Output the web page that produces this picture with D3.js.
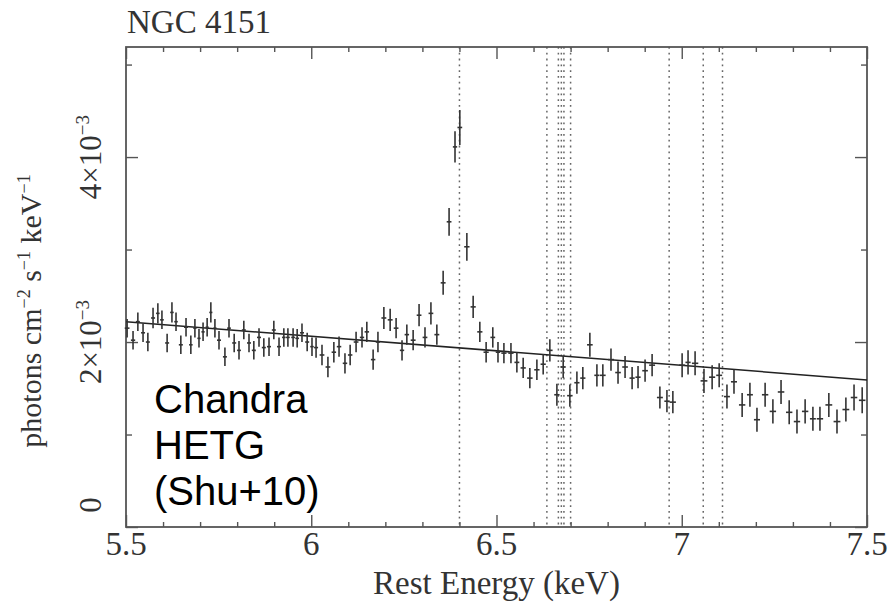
<!DOCTYPE html>
<html>
<head>
<meta charset="utf-8">
<script src="https://cdn.jsdelivr.net/npm/d3@7"></script>
<style>
  body { margin: 0; background: #fff; }
  svg { display: block; }
</style>
</head>
<body>
<script>
// Spectrum bins (rest energy in keV, flux in 1e-3 photons cm-2 s-1 keV-1)
const energy = [
  5.503, 5.519, 5.532, 5.546, 5.559, 5.573, 5.586, 5.597, 5.611, 5.624,
  5.635, 5.648, 5.662, 5.675, 5.686, 5.697, 5.708, 5.719, 5.729, 5.740,
  5.751, 5.767, 5.778, 5.792, 5.805, 5.818, 5.832, 5.845, 5.859, 5.872,
  5.886, 5.899, 5.913, 5.926, 5.937, 5.951, 5.962, 5.975, 5.989, 6.002,
  6.013, 6.029, 6.045, 6.061, 6.075, 6.091, 6.105, 6.121, 6.137, 6.150,
  6.167, 6.180, 6.196, 6.213, 6.229, 6.245, 6.258, 6.275, 6.291, 6.307,
  6.323, 6.339, 6.356, 6.372, 6.388, 6.401, 6.420, 6.437, 6.455, 6.472,
  6.490, 6.504, 6.520, 6.539, 6.555, 6.572, 6.590, 6.609, 6.626, 6.644,
  6.663, 6.680, 6.698, 6.717, 6.733, 6.752, 6.771, 6.787, 6.809, 6.828,
  6.847, 6.866, 6.882, 6.901, 6.920, 6.941, 6.960, 6.976, 7.001, 7.017,
  7.036, 7.060, 7.082, 7.101, 7.122, 7.141, 7.163, 7.184, 7.203, 7.225,
  7.246, 7.268, 7.290, 7.311, 7.333, 7.354, 7.373, 7.397, 7.419, 7.443,
  7.465, 7.487
];
const flux = [
  2.15, 2.02, 2.22, 2.10, 2.00, 2.26, 2.31, 2.24, 1.99, 2.32,
  2.22, 1.97, 2.16, 1.97, 2.15, 2.04, 2.11, 2.16, 2.32, 2.15,
  2.02, 1.84, 2.15, 1.99, 1.91, 2.13, 1.99, 1.91, 2.05, 1.94,
  1.95, 2.13, 1.95, 2.05, 2.05, 2.05, 2.04, 2.10, 2.00, 1.95,
  1.94, 1.86, 1.73, 1.89, 1.95, 1.77, 1.86, 2.00, 2.05, 2.11,
  1.81, 2.00, 2.26, 2.24, 2.15, 1.91, 2.08, 2.02, 2.29, 2.05,
  2.31, 2.08, 2.64, 3.30, 4.11, 4.32, 3.03, 2.38, 2.11, 1.89,
  2.05, 1.89, 1.88, 1.88, 1.78, 1.72, 1.61, 1.70, 1.76, 1.91,
  1.43, 1.73, 1.42, 1.56, 1.61, 1.97, 1.64, 1.64, 1.81, 1.67,
  1.73, 1.61, 1.62, 1.69, 1.75, 1.40, 1.36, 1.35, 1.75, 1.78,
  1.77, 1.58, 1.62, 1.64, 1.41, 1.57, 1.32, 1.43, 1.16, 1.43,
  1.25, 1.46, 1.24, 1.14, 1.25, 1.17, 1.17, 1.32, 1.14, 1.27,
  1.40, 1.37
];
const fluxErr = [
  0.10, 0.10, 0.10, 0.10, 0.10, 0.11, 0.11, 0.10, 0.10, 0.11,
  0.10, 0.10, 0.10, 0.10, 0.10, 0.10, 0.10, 0.10, 0.11, 0.10,
  0.10, 0.10, 0.10, 0.10, 0.10, 0.10, 0.10, 0.10, 0.10, 0.10,
  0.10, 0.10, 0.10, 0.10, 0.10, 0.10, 0.10, 0.10, 0.10, 0.10,
  0.11, 0.11, 0.11, 0.11, 0.11, 0.11, 0.11, 0.11, 0.11, 0.11,
  0.11, 0.11, 0.12, 0.12, 0.11, 0.11, 0.11, 0.11, 0.12, 0.11,
  0.12, 0.11, 0.13, 0.15, 0.17, 0.19, 0.15, 0.12, 0.11, 0.11,
  0.11, 0.11, 0.11, 0.11, 0.11, 0.11, 0.11, 0.11, 0.11, 0.12,
  0.12, 0.12, 0.12, 0.12, 0.12, 0.13, 0.12, 0.12, 0.12, 0.12,
  0.12, 0.12, 0.12, 0.12, 0.12, 0.12, 0.12, 0.12, 0.13, 0.13,
  0.13, 0.13, 0.13, 0.13, 0.13, 0.13, 0.13, 0.13, 0.13, 0.13,
  0.13, 0.13, 0.13, 0.13, 0.13, 0.13, 0.13, 0.13, 0.13, 0.13,
  0.14, 0.14
];

// continuum model (straight power law over this band)
const modelEnergy = [5.5, 7.5];
const modelFlux = [2.22, 1.59];

// dotted line energies (Fe K lines and edge)
const lineEnergies = [6.400, 6.636, 6.667, 6.675, 6.682, 6.700, 6.966, 7.058, 7.110];

const xTickValues = [5.5, 6, 6.5, 7, 7.5];
const yTickValues = [0, 2, 4];
const yTickLabels = [null, "2×10", "4×10"];

let width = 890, height = 603;
let margin = {top: 47, right: 23, bottom: 76, left: 126};

let svg = d3.select("body").append("svg")
    .attr("width", width)
    .attr("height", height);

let xScale = d3.scaleLinear()
    .domain([5.5, 7.5])
    .range([margin.left, width - margin.right]);

let yScale = d3.scaleLinear()
    .domain([0, 5.19])
    .range([height - margin.bottom, margin.top]);

const x0 = margin.left, x1 = width - margin.right;
const y0 = height - margin.bottom, y1 = margin.top;
const axisColor = "#555";

// dotted vertical lines
svg.append("g").selectAll("line")
    .data(lineEnergies)
    .enter().append("line")
    .attr("x1", d => xScale(d)).attr("x2", d => xScale(d))
    .attr("y1", y1).attr("y2", y0)
    .attr("stroke", "#666")
    .attr("stroke-width", 1.5)
    .attr("stroke-dasharray", "1.8,4");

// ticks on all four sides, pointing in
function ticks(axisFn, scale, values, size, transform) {
    svg.append("g")
        .attr("transform", transform)
        .call(axisFn(scale).tickValues(values).tickSize(-size).tickFormat(""))
        .call(g => g.select(".domain").remove())
        .call(g => g.selectAll("line").attr("stroke", axisColor).attr("stroke-width", 1.4));
}
const xMinor = xScale.ticks(20).filter(d => !xTickValues.includes(d));
const yMinor = yScale.ticks(5).filter(d => !yTickValues.includes(d));

ticks(d3.axisBottom, xScale, xTickValues, 12, `translate(0,${y0})`);
ticks(d3.axisBottom, xScale, xMinor, 5, `translate(0,${y0})`);
ticks(d3.axisTop, xScale, xTickValues, 12, `translate(0,${y1})`);
ticks(d3.axisTop, xScale, xMinor, 5, `translate(0,${y1})`);
ticks(d3.axisLeft, yScale, yTickValues, 12, `translate(${x0},0)`);
ticks(d3.axisLeft, yScale, yMinor, 6, `translate(${x0},0)`);
ticks(d3.axisRight, yScale, yTickValues, 12, `translate(${x1},0)`);
ticks(d3.axisRight, yScale, yMinor, 6, `translate(${x1},0)`);

// frame
svg.append("rect")
    .attr("x", x0).attr("y", y1)
    .attr("width", x1 - x0).attr("height", y0 - y1)
    .attr("fill", "none")
    .attr("stroke", axisColor)
    .attr("stroke-width", 1.8);

// model line
const line = d3.line().x(d => xScale(d[0])).y(d => yScale(d[1]));
svg.append("path")
    .datum(modelEnergy.map((e, i) => [e, modelFlux[i]]))
    .attr("d", line)
    .attr("fill", "none")
    .attr("stroke", "#222")
    .attr("stroke-width", 1.5);

// data crosses
const pts = energy.map((e, i) => {
    const prev = i > 0 ? energy[i - 1] : e - (energy[1] - energy[0]);
    const next = i < energy.length - 1 ? energy[i + 1] : e + (e - energy[i - 1]);
    return {e: e, f: flux[i], err: fluxErr[i], hw: (next - prev) / 4 * 0.8};
});
let cross = svg.append("g").selectAll("g")
    .data(pts)
    .enter().append("g")
    .attr("stroke", "#333")
    .attr("stroke-width", 1.6);
cross.append("line")
    .attr("x1", d => xScale(d.e)).attr("x2", d => xScale(d.e))
    .attr("y1", d => yScale(d.f - d.err)).attr("y2", d => yScale(d.f + d.err));
cross.append("line")
    .attr("x1", d => xScale(d.e - d.hw)).attr("x2", d => xScale(d.e + d.hw))
    .attr("y1", d => yScale(d.f)).attr("y2", d => yScale(d.f));

// x tick labels
const serif = "'Liberation Serif', 'Times New Roman', serif";
svg.append("g").selectAll("text")
    .data(xTickValues)
    .enter().append("text")
    .attr("x", d => xScale(d))
    .attr("y", 555)
    .attr("text-anchor", "middle")
    .style("font-family", serif)
    .style("font-size", "33px")
    .attr("fill", "#333")
    .text(d => d3.format("~g")(d));

// y tick labels, rotated
yTickValues.forEach((v, i) => {
    const yc = v === 0 ? 505 : yScale(v);
    const t = svg.append("text")
        .attr("transform", `translate(101,${yc}) rotate(-90)`)
        .attr("text-anchor", "middle")
        .style("font-family", serif)
        .style("font-size", "31px")
        .attr("fill", "#333");
    if (yTickLabels[i] === null) {
        t.text("0");
    } else {
        t.append("tspan").text(yTickLabels[i]);
        t.append("tspan").attr("dy", -12).style("font-size", "19px").text("−3");
    }
});

// y axis title
const ylab = svg.append("text")
    .attr("transform", "translate(41,311) rotate(-90)")
    .attr("text-anchor", "middle")
    .style("font-family", serif)
    .style("font-size", "30px")
    .attr("fill", "#333");
ylab.append("tspan").text("photons cm");
ylab.append("tspan").attr("dy", -11).style("font-size", "18px").text("−2");
ylab.append("tspan").attr("dy", 11).text(" s");
ylab.append("tspan").attr("dy", -11).style("font-size", "18px").text("−1");
ylab.append("tspan").attr("dy", 11).text(" keV");
ylab.append("tspan").attr("dy", -11).style("font-size", "18px").text("−1");

// x axis title
svg.append("text")
    .attr("x", (x0 + x1) / 2)
    .attr("y", 594)
    .attr("text-anchor", "middle")
    .style("font-family", serif)
    .style("font-size", "33px")
    .attr("fill", "#333")
    .text("Rest Energy (keV)");

// object name
svg.append("text")
    .attr("x", 127)
    .attr("y", 33)
    .style("font-family", serif)
    .style("font-size", "33px")
    .attr("fill", "#333")
    .text("NGC 4151");

// instrument annotation
const note = ["Chandra", "HETG", "(Shu+10)"];
svg.append("g").selectAll("text")
    .data(note)
    .enter().append("text")
    .attr("x", 154)
    .attr("y", (d, i) => 413 + i * 46)
    .style("font-family", "'Liberation Sans', Arial, sans-serif")
    .style("font-size", "40px")
    .attr("fill", "#000")
    .text(d => d);
</script>
</body>
</html>
